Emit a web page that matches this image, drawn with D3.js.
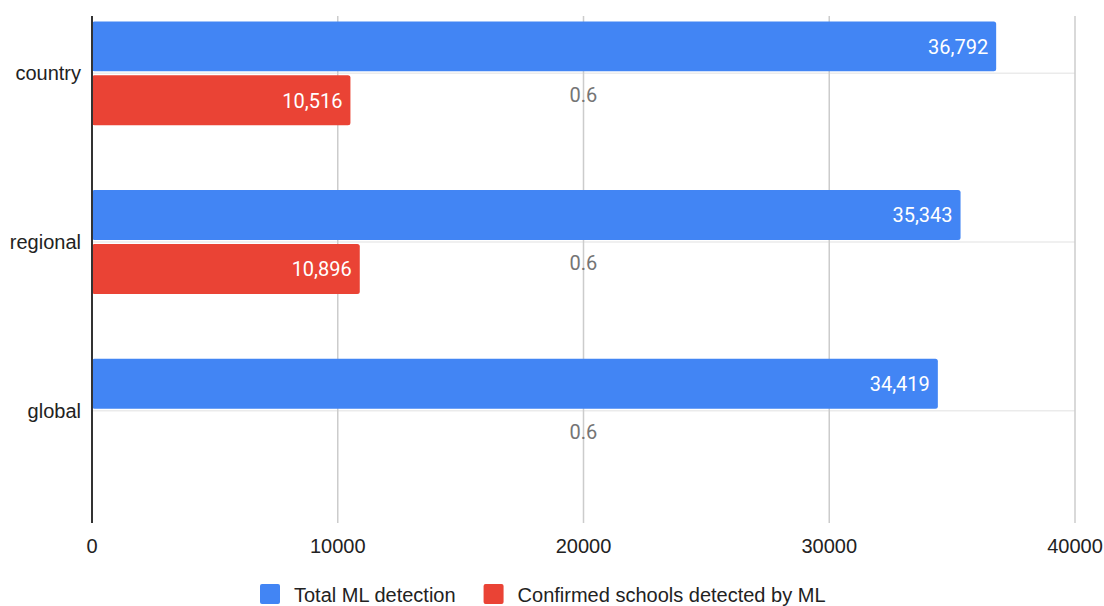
<!DOCTYPE html>
<html>
<head>
<meta charset="utf-8">
<script src="https://cdn.jsdelivr.net/npm/d3@7"></script>
<style>
  body { margin: 0; background: #fff; }
  text { font-family: "Liberation Sans", Arial, sans-serif; }
</style>
</head>
<body>
<div id="container"></div>
<script>
/* CONSTANTS AND GLOBALS */
const width = 1104;
const height = 606;

/* DATA */
const categories = ["country", "regional", "global"];
const seriesNames = ["Total ML detection", "Confirmed schools detected by ML", "ratio"];
const totalML = [36792, 35343, 34419];
const confirmed = [10516, 10896, null];
const ratio = [0.6, 0.6, 0.6];
const xTicks = [0, 10000, 20000, 30000, 40000];
const colors = ["#4285f4", "#ea4335"];

const rows = categories.map((c, i) => ({
  cat: c,
  values: [
    { key: seriesNames[0], v: totalML[i] },
    { key: seriesNames[1], v: confirmed[i] }
  ],
  ratio: ratio[i]
}));

const svg = d3.select("#container")
  .append("svg")
  .attr("width", width)
  .attr("height", height)
  .style("background-color", "white");

/* SCALES */
const xScale = d3.scaleLinear()
  .domain([0, 40000])
  .range([92, 1075]);

// secondary (hidden) axis for the ratio series
const x2Scale = d3.scaleLinear()
  .domain([0, 1.2])
  .range([92, 1075]);

const y0 = d3.scaleBand()
  .domain(categories)
  .range([16, 522])
  .paddingInner(0);

const y1 = d3.scaleBand()
  .domain(seriesNames)
  .range([0, y0.bandwidth()])
  .paddingInner(0.074)
  .paddingOuter(0.1);

const color = d3.scaleOrdinal().domain(seriesNames.slice(0, 2)).range(colors);

// category line sits between the first two bars
const catY = c => y0(c) + (y1(seriesNames[0]) + y1.bandwidth() + y1(seriesNames[1])) / 2;

/* GRID */
svg.selectAll(".hgrid")
  .data(categories)
  .join("line")
  .attr("class", "hgrid")
  .attr("x1", xScale(0))
  .attr("x2", xScale(40000))
  .attr("y1", d => catY(d))
  .attr("y2", d => catY(d))
  .attr("stroke", "#ebebeb")
  .attr("stroke-width", 1.5);

svg.selectAll(".vgrid")
  .data(xTicks.slice(1))
  .join("line")
  .attr("class", "vgrid")
  .attr("x1", d => xScale(d))
  .attr("x2", d => xScale(d))
  .attr("y1", 16)
  .attr("y2", 523)
  .attr("stroke", "#cccccc")
  .attr("stroke-width", 1.5);

/* BARS */
const groups = svg.selectAll(".grp")
  .data(rows)
  .join("g")
  .attr("class", "grp")
  .attr("transform", d => `translate(0,${y0(d.cat)})`);

groups.selectAll("rect")
  .data(d => d.values.filter(v => v.v != null))
  .join("rect")
  .attr("x", xScale(0))
  .attr("y", d => y1(d.key))
  .attr("width", d => xScale(d.v) - xScale(0))
  .attr("height", y1.bandwidth())
  .attr("rx", 2.5)
  .attr("fill", d => color(d.key));

groups.selectAll(".val")
  .data(d => d.values.filter(v => v.v != null))
  .join("text")
  .attr("class", "val")
  .attr("x", d => xScale(d.v) - 8)
  .attr("y", d => y1(d.key) + y1.bandwidth() / 2)
  .attr("dy", "0.36em")
  .attr("text-anchor", "end")
  .attr("fill", "white")
  .style("font-family", "Roboto, sans-serif")
  .style("font-size", "20px")
  .text(d => d3.format(",")(d.v));

// ratio labels
groups.append("text")
  .attr("x", d => x2Scale(d.ratio))
  .attr("y", y1(seriesNames[1]) + 19)
  .attr("dy", "0.36em")
  .attr("text-anchor", "middle")
  .attr("fill", "#757575")
  .style("font-family", "Roboto, sans-serif")
  .style("font-size", "20px")
  .text(d => d.ratio);

/* AXES */
svg.append("line")
  .attr("x1", xScale(0))
  .attr("x2", xScale(0))
  .attr("y1", 16)
  .attr("y2", 523)
  .attr("stroke", "#333")
  .attr("stroke-width", 2);

svg.selectAll(".xtick")
  .data(xTicks)
  .join("text")
  .attr("class", "xtick")
  .attr("x", d => xScale(d))
  .attr("y", 553)
  .attr("text-anchor", "middle")
  .attr("fill", "#222")
  .style("font-size", "20px")
  .text(d => d);

svg.selectAll(".ylab")
  .data(categories)
  .join("text")
  .attr("class", "ylab")
  .attr("x", 81)
  .attr("y", d => catY(d))
  .attr("dy", "0.35em")
  .attr("text-anchor", "end")
  .attr("fill", "#222")
  .style("font-size", "20px")
  .text(d => d);

/* LEGEND */
let lx = 260;
seriesNames.slice(0, 2).forEach(name => {
  svg.append("rect")
    .attr("x", lx)
    .attr("y", 584)
    .attr("width", 20)
    .attr("height", 20)
    .attr("rx", 2)
    .attr("fill", color(name));
  const t = svg.append("text")
    .attr("x", lx + 34)
    .attr("y", 602)
    .attr("fill", "#222")
    .style("font-size", "20px")
    .text(name);
  lx += 34 + t.node().getComputedTextLength() + 28;
});
</script>
</body>
</html>
